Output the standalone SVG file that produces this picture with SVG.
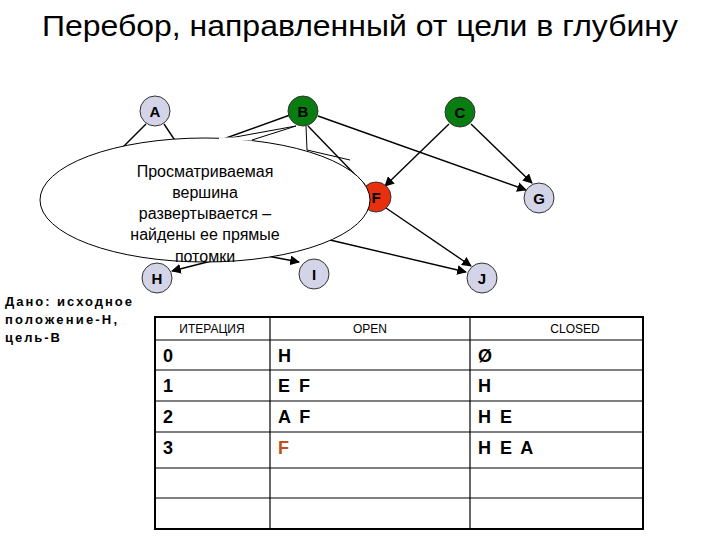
<svg xmlns="http://www.w3.org/2000/svg" width="720" height="540" viewBox="0 0 720 540">
<style>
text{font-family:"Liberation Sans",Arial,sans-serif;fill:#000}
.n{fill:#d4d4e8;stroke:#333;stroke-width:1}
.g{fill:#0a7d12;stroke:#333;stroke-width:1}
.l{font-size:15px;font-weight:bold;text-anchor:middle}
.e{stroke:#000;stroke-width:1.4;fill:none}
.ea{stroke:#000;stroke-width:1.4;fill:none;marker-end:url(#ar)}
.t{font-size:18px;font-weight:bold;letter-spacing:2px}
.h{font-size:12px;text-anchor:middle}
</style>
<defs><marker id="ar" viewBox="0 0 10 10" refX="9" refY="5" markerWidth="7" markerHeight="7" orient="auto"><path d="M0,0L10,5L0,10z" fill="#000"/></marker></defs>
<rect width="720" height="540" fill="#fff"/>
<text x="42" y="36" font-size="29" textLength="636" lengthAdjust="spacingAndGlyphs">Перебор, направленный от цели в глубину</text>
<g id="edges">
<line class="e" x1="146" y1="124" x2="110" y2="160"/>
<line class="e" x1="164" y1="124" x2="176" y2="142"/>
<line class="e" x1="290" y1="115" x2="215" y2="142"/>
<line class="ea" x1="318" y1="116" x2="526" y2="190"/>
<line class="e" x1="308" y1="126" x2="365" y2="185"/>
<line class="ea" x1="449" y1="124" x2="385" y2="186"/>
<line class="ea" x1="471" y1="124" x2="532" y2="183"/>
<line class="ea" x1="386" y1="208" x2="471" y2="266"/>
<line class="ea" x1="330" y1="240" x2="466" y2="272"/>
<line class="ea" x1="235" y1="255" x2="172" y2="271"/>
<line class="ea" x1="262" y1="255" x2="299" y2="262"/>
</g>
<g id="A"><circle class="n" cx="155" cy="111" r="15"/><text class="l" x="155" y="117">A</text></g>
<g id="B"><circle class="g" cx="303" cy="111" r="15"/><text class="l" x="303" y="117">B</text></g>
<g id="C"><circle class="g" cx="460" cy="112" r="15"/><text class="l" x="460" y="118">C</text></g>
<g id="F"><circle cx="376" cy="197" r="15" fill="#e8300e" stroke="#333"/><text class="l" x="376" y="203">F</text></g>
<g id="G"><circle class="n" cx="539" cy="198" r="15"/><text class="l" x="539" y="204">G</text></g>
<g id="H"><circle class="n" cx="157" cy="278" r="15"/><text class="l" x="157" y="284">H</text></g>
<g id="I"><circle class="n" cx="314" cy="274" r="15"/><text class="l" x="314" y="280">I</text></g>
<g id="J"><circle class="n" cx="482" cy="278" r="15"/><text class="l" x="482" y="284">J</text></g>
<g id="callout">
<path d="M219,140 L296,126 L252,140 Z" fill="#fff" stroke="#000" stroke-width="1"/>
<path d="M306,126 L307,150 L350,160" fill="none" stroke="#000" stroke-width="1"/>
<ellipse cx="205" cy="200" rx="165" ry="62" fill="#fff" stroke="#000" stroke-width="1"/>
<rect x="219" y="137.5" width="33" height="3" fill="#fff"/>
<text x="205" y="177" font-size="16" text-anchor="middle">Просматриваемая</text>
<text x="205" y="198" font-size="16" text-anchor="middle">вершина</text>
<text x="205" y="219" font-size="16" text-anchor="middle">развертывается –</text>
<text x="205" y="240" font-size="16" text-anchor="middle">найдены ее прямые</text>
<text x="205" y="262" font-size="16" text-anchor="middle">потомки</text>
</g>
<g id="given" font-size="13" font-weight="bold" style="font-family:'DejaVu Sans Mono',monospace">
<text x="5" y="306" textLength="127">Дано: исходное</text>
<text x="5" y="324" textLength="112">положение-Н,</text>
<text x="5" y="342" textLength="55">цель-В</text>
</g>
<g id="table">
<rect x="155" y="317" width="488" height="212" fill="none" stroke="#000" stroke-width="2"/>
<g stroke="#000" stroke-width="1.2">
<line x1="270" y1="317" x2="270" y2="529"/><line x1="470" y1="317" x2="470" y2="529"/>
<line x1="155" y1="340" x2="643" y2="340"/><line x1="155" y1="370" x2="643" y2="370"/>
<line x1="155" y1="401" x2="643" y2="401"/><line x1="155" y1="432" x2="643" y2="432"/>
<line x1="155" y1="468" x2="643" y2="468"/><line x1="155" y1="498" x2="643" y2="498"/>
</g>
<text class="h" x="212" y="333">ИТЕРАЦИЯ</text><text class="h" x="370" y="333">OPEN</text><text class="h" x="575" y="333">CLOSED</text>
<text class="t" x="163" y="362">0</text><text class="t" x="278" y="362">H</text><text class="t" x="478" y="362">Ø</text>
<text class="t" x="163" y="392">1</text><text class="t" x="278" y="392">E F</text><text class="t" x="478" y="392">H</text>
<text class="t" x="163" y="423">2</text><text class="t" x="278" y="423">A F</text><text class="t" x="478" y="423">H E</text>
<text class="t" x="163" y="454">3</text><text class="t" x="278" y="454" style="fill:#c84b1e">F</text><text class="t" x="478" y="454">H E A</text>
</g>
</svg>
